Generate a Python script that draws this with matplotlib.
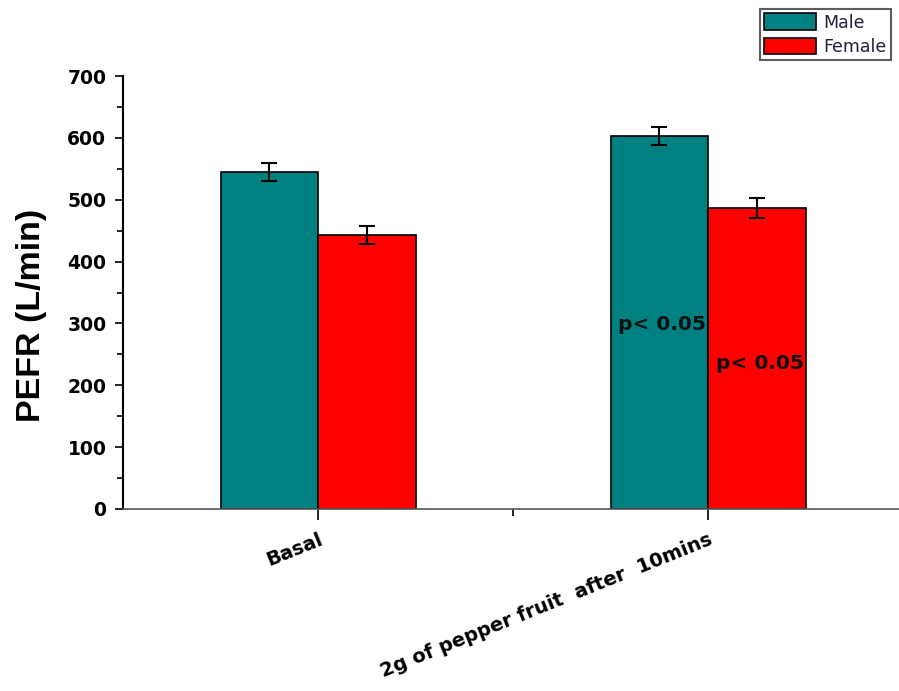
import numpy as np
import matplotlib.pyplot as plt

plt.rcParams['font.family'] = ['DejaVu Sans']

# data
groups = ['Basal', '2g of pepper fruit  after  10mins']
male = [545, 603]
male_err = [15, 14]
female = [443, 487]
female_err = [14, 16]
series_labels = ['Male', 'Female']
p_labels = ['p< 0.05', 'p< 0.05']

fig = plt.figure(figsize=(8.99, 6.91), dpi=100)
ax = fig.add_axes([123 / 899, 1 - 509 / 691, 780 / 899, 433 / 691])

x = np.arange(1, len(groups) + 1)
w = 0.25
b1 = ax.bar(x - w / 2, male, w, yerr=male_err, color='#008080', edgecolor='black',
            linewidth=1.2, capsize=6, error_kw={'elinewidth': 1.5, 'capthick': 1.5},
            label=series_labels[0])
b2 = ax.bar(x + w / 2, female, w, yerr=female_err, color='#ff0000', edgecolor='black',
            linewidth=1.2, capsize=6, error_kw={'elinewidth': 1.5, 'capthick': 1.5},
            label=series_labels[1])

# significance notes on the second group
ax.text(x[1] - 0.005, 299, p_labels[0], ha='right', va='center', fontsize=14.5,
        fontweight='bold', color='#101010')
ax.text(x[1] + w - 0.005, 236, p_labels[1], ha='right', va='center', fontsize=14.5,
        fontweight='bold', color='#101010')

ax.set_xlim(0.5, 2.5)
ax.set_ylim(0, 700)
ax.set_yticks(np.arange(0, 701, 100))
ax.set_yticks(np.arange(50, 700, 100), minor=True)
ax.set_xticks(x)
ax.set_xticks([1.5], minor=True)
ax.set_xticklabels(groups, rotation=22, ha='right', rotation_mode='anchor',
                   fontsize=14, fontweight='bold')
for lab in ax.get_yticklabels():
    lab.set_fontweight('bold')
ax.tick_params(axis='y', labelsize=13.5, length=6, width=1.2, pad=6)
ax.tick_params(axis='y', which='minor', length=4, width=1.2)
ax.tick_params(axis='x', length=8, width=1.2, pad=7)
ax.tick_params(axis='x', which='minor', length=5, width=1.2)

ax.spines['top'].set_visible(False)
ax.spines['right'].set_visible(False)
ax.spines['left'].set_linewidth(1.5)
ax.spines['bottom'].set_linewidth(1.2)
ax.spines['bottom'].set_color('#555555')

ax.set_ylabel('PEFR (L/min)', fontsize=24.5, fontweight='bold', family='Liberation Sans')
ax.yaxis.set_label_coords(-0.097, 0.448)

leg = fig.legend(handles=[b1, b2], loc='upper left', bbox_to_anchor=(760 / 899, 1 - 9 / 691),
                 frameon=True, fancybox=False, fontsize=12.5, handlelength=3.0,
                 handleheight=1.1, handletextpad=0.4, borderpad=0.25, labelspacing=0.35,
                 borderaxespad=0)
leg.get_frame().set_edgecolor('#333333')
leg.get_frame().set_linewidth(1.5)
for t in leg.get_texts():
    t.set_color('#202040')

fig.savefig('out.png', dpi=100)
